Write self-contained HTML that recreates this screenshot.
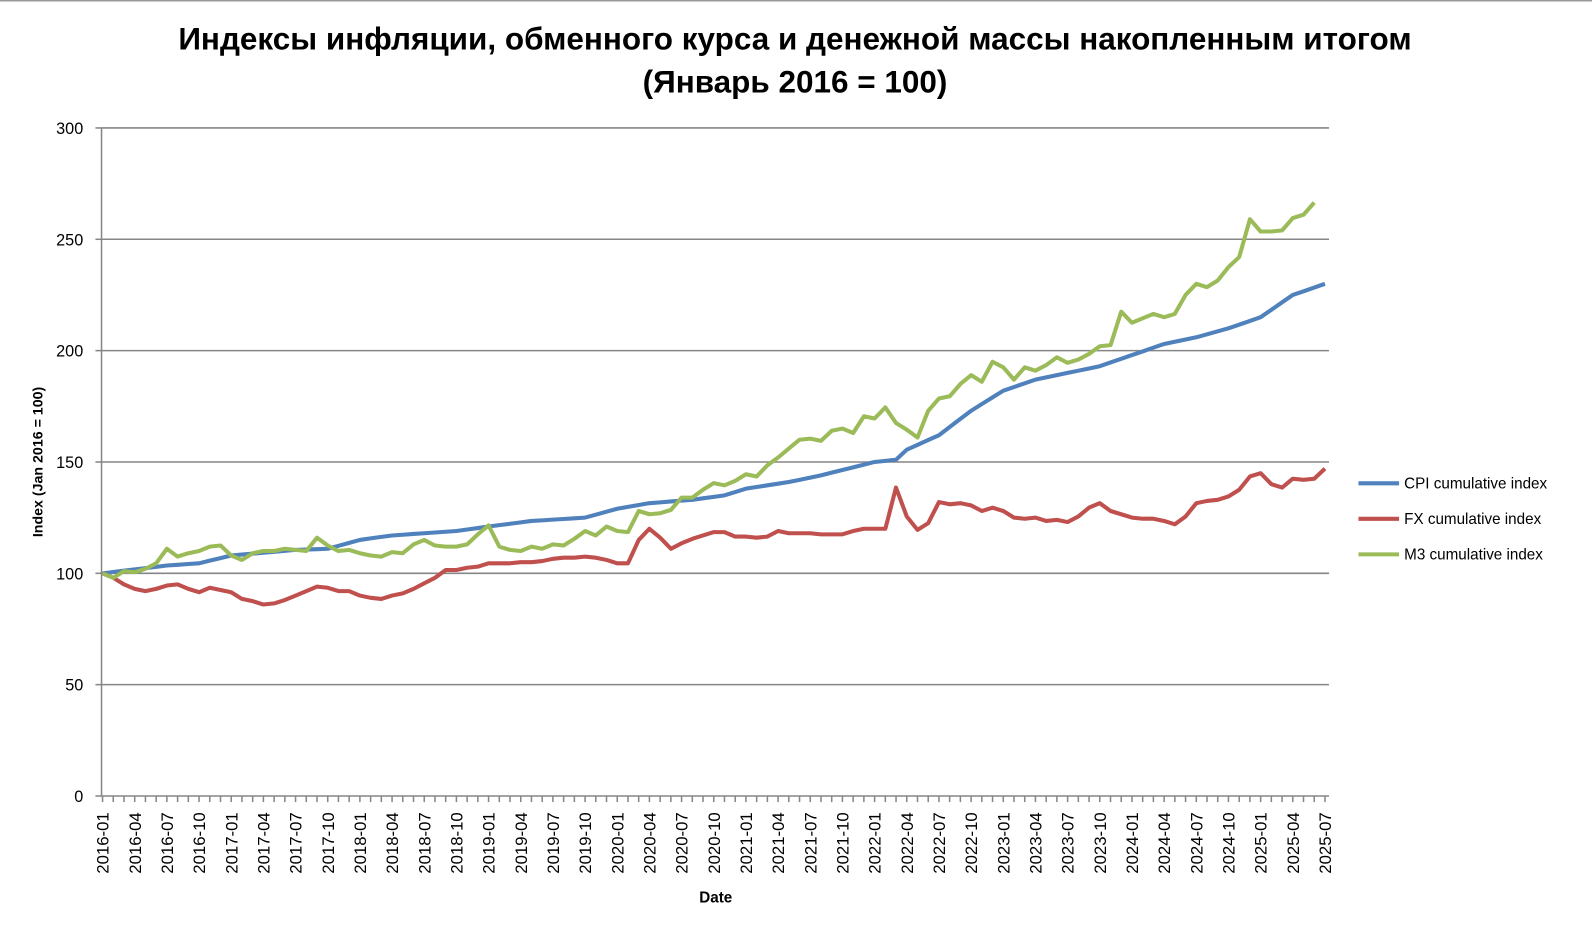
<!DOCTYPE html>
<html><head><meta charset="utf-8"><style>
body{margin:0;background:#fff;}
svg{display:block;font-family:"Liberation Sans","DejaVu Sans",sans-serif;}
</style></head><body>
<svg id="s" width="1592" height="930" xmlns="http://www.w3.org/2000/svg">
<line x1="0" y1="0.5" x2="1592" y2="0.5" stroke="#999" stroke-width="2"/>
<g transform="scale(1.0153)">
<text x="783" y="49" text-anchor="middle" font-size="31" font-weight="bold">Индексы инфляции, обменного курса и денежной массы накопленным итогом</text>
<text x="783" y="91" text-anchor="middle" font-size="31" font-weight="bold">(Январь 2016 = 100)</text>
<g id="grid"></g>
<text transform="translate(42,455) rotate(-90)" text-anchor="middle" font-size="14" font-weight="bold">Index (Jan 2016 = 100)</text>
<text x="705" y="889" text-anchor="middle" font-size="15" font-weight="bold">Date</text>
<g id="xl"></g>
<g id="series"></g>
<line x1="1338" y1="476" x2="1378" y2="476" stroke="#4F81BD" stroke-width="4"/>
<text x="1383" y="481" font-size="15">CPI cumulative index</text>
<line x1="1338" y1="511" x2="1378" y2="511" stroke="#C0504D" stroke-width="4"/>
<text x="1383" y="516" font-size="15">FX cumulative index</text>
<line x1="1338" y1="546" x2="1378" y2="546" stroke="#9BBB59" stroke-width="4"/>
<text x="1383" y="551" font-size="15">M3 cumulative index</text>
</g>
</svg>
<script>
var NS="http://www.w3.org/2000/svg";
function el(t,a,p,txt){var e=document.createElementNS(NS,t);for(var k in a)e.setAttribute(k,a[k]);if(txt)e.textContent=txt;p.appendChild(e);return e;}
var Y=function(v){return 784-v*2.1933;};
var X=function(m){return 101+m*1204/114;};
var g=document.getElementById('grid');
for(var v=0;v<=300;v+=50){var y=Y(v);
 if(v>0)el('line',{x1:100,x2:1309,y1:y,y2:y,stroke:'#868686','stroke-width':1.5},g);
 el('line',{x1:94,x2:100,y1:y,y2:y,stroke:'#868686','stroke-width':1.5},g);
 el('text',{x:82,y:y+6,'text-anchor':'end','font-size':16},g,String(v));}
el('line',{x1:100,x2:100,y1:126,y2:784,stroke:'#868686','stroke-width':1.5},g);
el('line',{x1:100,x2:1309,y1:784,y2:784,stroke:'#868686','stroke-width':1.5},g);
var xl=document.getElementById('xl');
for(var m=0;m<=114;m++){var x=X(m);
 el('line',{x1:x,x2:x,y1:784,y2:790,stroke:'#868686','stroke-width':1.5},xl);
 if(m%3==0){var yr=2016+Math.floor(m/12),mo=(m%12)+1;
 el('text',{transform:'translate('+(x+6)+',800) rotate(-90)','text-anchor':'end','font-size':16.5},xl,yr+'-'+(mo<10?'0':'')+mo);}}
var fx=[100,98,95,93,92,93,94.5,95,93,91.5,93.5,92.5,91.5,88.5,87.5,86,86.5,88,90,92,94,93.5,92,92,90,89,88.5,90,91,93,95.5,98,101.5,101.5,102.5,103,104.5,104.5,104.5,105,105,105.5,106.5,107,107,107.5,107,106,104.5,104.5,115,120,116,111,113.5,115.5,117,118.5,118.5,116.5,116.5,116,116.5,119,118,118,118,117.5,117.5,117.5,119,120,120,120,138.5,125.5,119.5,122.5,132,131,131.5,130.5,128,129.5,128,125,124.5,125,123.5,124,123,125.5,129.5,131.5,128,126.5,125,124.5,124.5,123.5,122,125.5,131.5,132.5,133,134.5,137.5,143.5,145,140,138.5,142.5,142,142.5,147];
var m3=[100,98,101,100.5,102,104.5,111,107.5,109,110,112,112.5,108,106,109,110,110,111,110.5,110,116,112.5,110,110.5,109,108,107.5,109.5,109,113,115,112.5,112,112,113,117.5,121.5,112,110.5,110,112,111,113,112.5,115.5,119,117,121,119,118.5,128,126.5,127,128.5,134,134,137.5,140.5,139.5,141.5,144.5,143.5,148.5,152,156,160,160.5,159.5,164,165,163,170.5,169.5,174.5,167.5,164.5,161,173,178.5,179.5,185,189,186,195,192.5,187,192.5,191,193.5,197,194.5,196,198.5,202,202.5,217.5,212.5,214.5,216.5,215,216.5,225,230,228.5,231.5,237.5,242,259,253.5,253.5,254,259.5,261,266.5];
var ck=[[0,100],[6,103.5],[9,104.5],[12,108],[18,110.5],[21,111],[24,115],[27,117],[33,119],[36,121],[40,123.5],[45,125],[48,129],[51,131.5],[55,133],[58,135],[60,138],[64,141],[67,144],[72,150],[74,151],[75,155.5],[78,162],[81,173],[84,182],[87,187],[90,190],[93,193],[96,198],[99,203],[102,206],[105,210],[108,215],[111,225],[114,230]];
var cpi=[];for(var i=0;i<ck.length-1;i++){var a=ck[i],b=ck[i+1];for(var m=a[0];m<b[0];m++)cpi.push(a[1]+(b[1]-a[1])*(m-a[0])/(b[0]-a[0]));}cpi.push(230);
var sg=document.getElementById('series');
function line(d,c){var p=d.map(function(v,i){return X(i).toFixed(1)+','+Y(v).toFixed(1)}).join(' ');el('polyline',{points:p,fill:'none',stroke:c,'stroke-width':4,'stroke-linejoin':'round'},sg);}
line(cpi,'#4F81BD');line(fx,'#C0504D');line(m3,'#9BBB59');
</script>
</body></html>
